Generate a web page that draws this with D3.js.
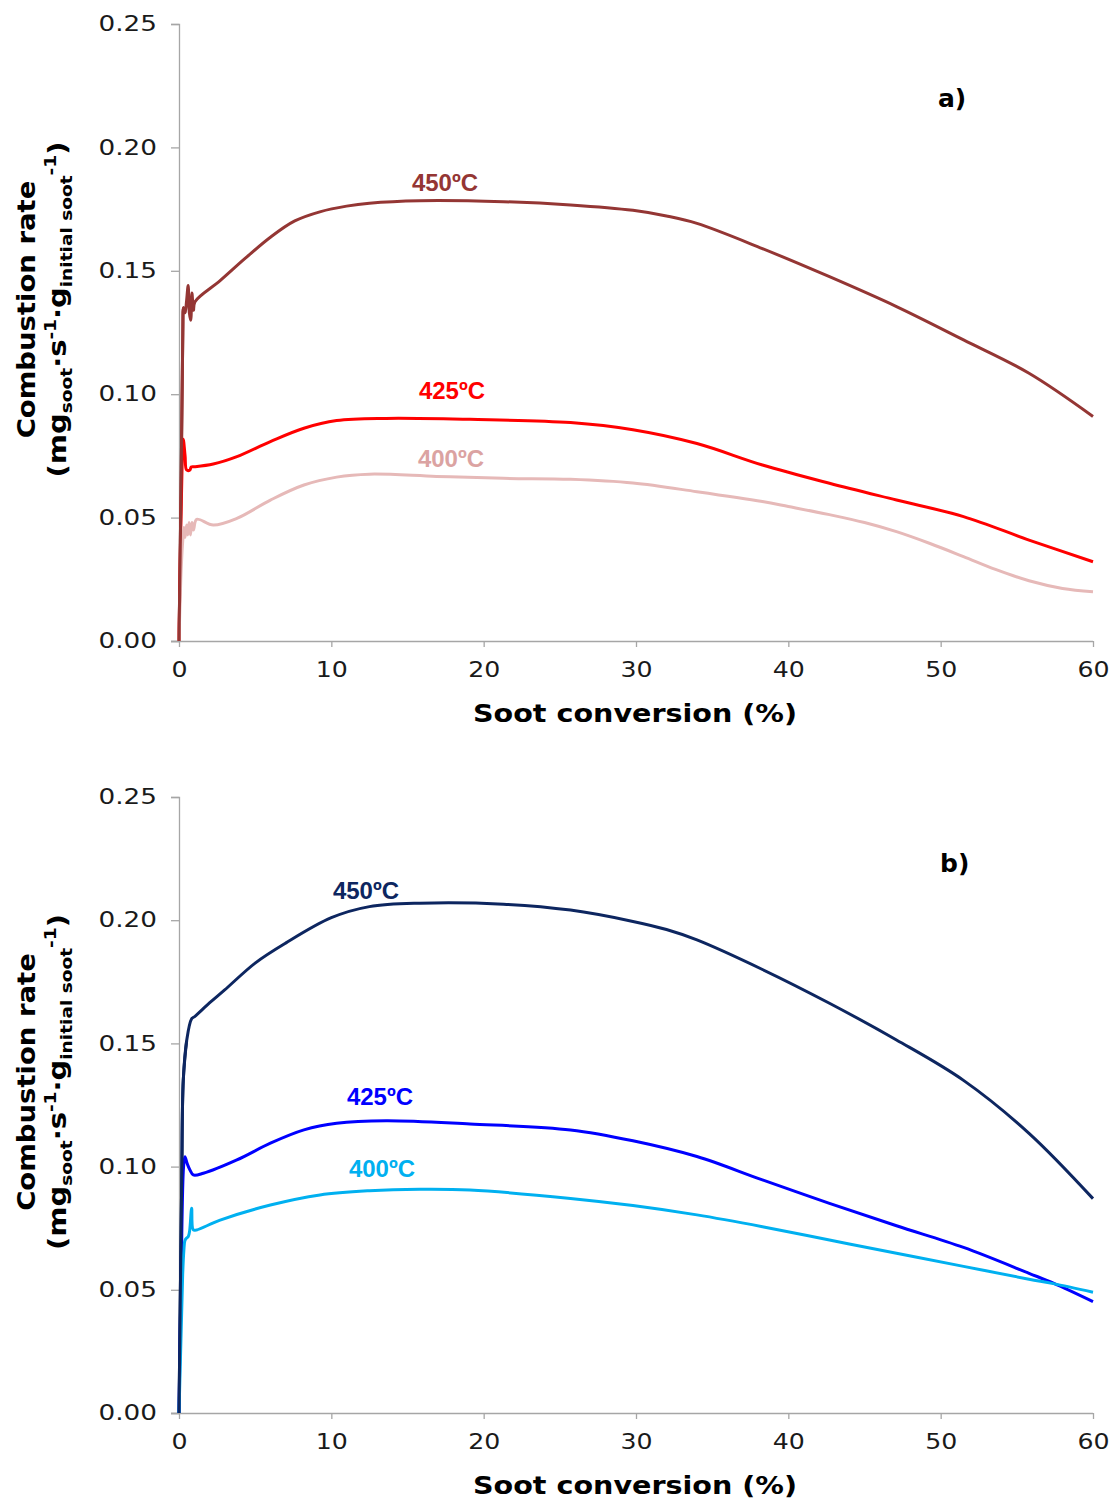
<!DOCTYPE html>
<html><head><meta charset="utf-8">
<script src="https://cdn.jsdelivr.net/npm/d3@7"></script>
<style>body{margin:0;background:#fff}svg{display:block}</style>
</head><body>
<script>
// ---------- DATA ----------
const xTicks = [0, 10, 20, 30, 40, 50, 60];
const yTicks = [0, 0.05, 0.10, 0.15, 0.20, 0.25];
const seriesNames = ["450ºC", "425ºC", "400ºC"];

const a450 = [[0,0],[0.15,0.07],[0.25,0.125],[0.3,0.135],[0.4,0.133],[0.5,0.138],[0.6,0.144],[0.68,0.133],[0.77,0.130],[0.85,0.141],[0.95,0.134],[1.05,0.1375],[2.7,0.146],[4.3,0.1548],[6.0,0.1636],[7.6,0.1702],[9.3,0.1740],[11,0.1762],[12.5,0.1774],[15.8,0.1784],[21.3,0.178],[25.7,0.1767],[29.8,0.1745],[32,0.1722],[34,0.1692],[38.3,0.159],[42.7,0.1476],[47.1,0.1355],[51.5,0.122],[55.8,0.1085],[60,0.091]];
const a425 = [[0,0],[0.1,0.04],[0.2,0.07],[0.28,0.0817],[0.4,0.075],[0.5,0.0693],[0.72,0.0693],[0.8,0.0705],[1.05,0.0706],[2.25,0.0717],[3.8,0.0747],[6,0.0808],[8.2,0.0862],[10.35,0.0893],[13.6,0.0902],[19.1,0.0898],[25.7,0.0885],[29.8,0.0856],[34,0.080],[38.3,0.0713],[42.7,0.0639],[47.1,0.0571],[51.5,0.0504],[55.8,0.0409],[60,0.0321]];
const a400 = [[0,0],[0.15,0.03],[0.25,0.041],[0.33,0.046],[0.4,0.042],[0.5,0.047],[0.58,0.043],[0.66,0.048],[0.75,0.043],[0.85,0.048],[0.95,0.045],[1.16,0.0493],[2.25,0.047],[3.8,0.0497],[6,0.0571],[8.2,0.0632],[10.35,0.0664],[12.5,0.0676],[16.9,0.0667],[21.3,0.0659],[25.7,0.0655],[29.8,0.064],[34,0.0605],[38.3,0.0565],[40,0.0545],[42.7,0.0512],[45,0.0480],[47.1,0.0443],[49.3,0.0395],[51.5,0.0342],[53.6,0.0290],[55.8,0.0244],[58,0.0213],[60,0.020]];

const b450 = [[0,0],[0.07,0.039],[0.18,0.095],[0.28,0.135],[0.5,0.151],[0.83,0.160],[1.05,0.161],[2,0.1664],[3,0.1717],[5,0.1826],[7,0.1907],[10,0.2010],[12.5,0.2055],[15.8,0.2069],[21.3,0.2065],[25.7,0.2041],[29.8,0.1995],[32,0.1962],[34,0.192],[38.3,0.180],[42.7,0.1663],[47.1,0.1514],[51.5,0.135],[55.8,0.1135],[60,0.087]];
const b425 = [[0,0],[0.15,0.06],[0.3,0.1],[0.39,0.104],[0.55,0.101],[0.72,0.0986],[0.94,0.0966],[1.6,0.0973],[3.8,0.1027],[6,0.1095],[8.2,0.1149],[10.35,0.1176],[13.6,0.1186],[19.1,0.1173],[25.7,0.1149],[29.8,0.1105],[34,0.1041],[38.3,0.0946],[42.7,0.0851],[47.1,0.0760],[51.5,0.0672],[55.8,0.0567],[57.4,0.0527],[60,0.0452]];
const b400 = [[0,0],[0.15,0.035],[0.24,0.056],[0.32,0.066],[0.39,0.070],[0.5,0.071],[0.61,0.0716],[0.7,0.074],[0.83,0.0831],[0.94,0.0743],[1.16,0.0743],[2.7,0.0783],[6,0.0844],[9.25,0.0885],[12.5,0.0902],[15.8,0.0908],[19.1,0.0905],[25.7,0.0871],[29.8,0.0842],[34,0.0804],[38.3,0.0756],[42.7,0.0702],[47.1,0.0648],[51.5,0.0595],[55.8,0.0543],[57.4,0.0525],[60,0.0490]];

// ---------- LAYOUT / STYLE ----------
const W = 1113, H = 1502;
const svg = d3.select("body").append("svg").attr("width", W).attr("height", H);

const panels = [
  { tag: "a)", top: 24, bottom: 641, data: [a450, a425, a400],
    colors: ["#943634", "#ff0000", "#e6b9b8"], labelColors: ["#943634", "#ff0000", "#dba3a2"],
    labelPos: [[445, 191], [452, 399], [451, 467]], tagPos: [938, 107] },
  { tag: "b)", top: 797, bottom: 1413, data: [b450, b425, b400],
    colors: ["#0d2660", "#0000ff", "#00b0f0"], labelColors: ["#0d2660", "#0000ff", "#00b0f0"],
    labelPos: [[366, 899], [380, 1105], [382, 1177]], tagPos: [940, 872] }
];

function stretch(sel, factor) {
  sel.each(function () {
    const l = this.getComputedTextLength();
    this.setAttribute("textLength", l * factor);
    this.setAttribute("lengthAdjust", "spacingAndGlyphs");
  });
}

const x = d3.scaleLinear().domain([0, 60]).range([179, 1093]);

panels.forEach(p => {
  const y = d3.scaleLinear().domain([0, 0.25]).range([p.bottom, p.top]);
  const g = svg.append("g");

  // y axis
  const ya = g.append("g").attr("transform", `translate(${x(0)},0)`)
    .call(d3.axisLeft(y).tickValues(yTicks).tickFormat(d3.format(".2f")).tickSize(8).tickPadding(14));
  // x axis
  const xa = g.append("g").attr("transform", `translate(0,${p.bottom})`)
    .call(d3.axisBottom(x).tickValues(xTicks).tickFormat(d3.format("d")).tickSize(6).tickPadding(15));
  [ya, xa].forEach(a => {
    a.select(".domain").attr("stroke", "#a6a6a6").attr("stroke-width", 1.3);
    a.selectAll(".tick line").attr("stroke", "#a6a6a6").attr("stroke-width", 1.3);
    a.selectAll("text").attr("font-family", "DejaVu Sans").attr("font-size", 21).attr("fill", "#1a1a1a");
  });
  xa.select(".domain").attr("d", `M${x(0)-8},0.5H${x(60)}`);
  stretch(ya.selectAll("text"), 1.25);
  stretch(xa.selectAll("text"), 1.2);

  // curves
  const line = d3.line().x(d => x(d[0])).y(d => y(d[1])).curve(d3.curveCatmullRom.alpha(0.5));
  p.data.forEach((s, i) => {
    g.append("path").datum(s).attr("d", line).attr("fill", "none")
      .attr("stroke", p.colors[i]).attr("stroke-width", 3).attr("stroke-linejoin", "round");
  });
  // redraw the 450 curve's initial rise on top (it overlays the others at x≈0)
  g.append("path").datum(p.data[0].slice(0, 5)).attr("d", line).attr("fill", "none")
    .attr("stroke", p.colors[0]).attr("stroke-width", 3);

  // series labels
  seriesNames.forEach((n, i) => {
    g.append("text").attr("x", p.labelPos[i][0]).attr("y", p.labelPos[i][1])
      .attr("text-anchor", "middle").attr("font-family", "Liberation Sans, Arial")
      .attr("font-weight", "bold").attr("font-size", 24).attr("fill", p.labelColors[i]).text(n);
  });

  // panel tag
  g.append("text").attr("x", p.tagPos[0]).attr("y", p.tagPos[1])
    .attr("font-family", "DejaVu Sans").attr("font-weight", "bold").attr("font-size", 25)
    .attr("fill", "#000").text(p.tag);

  // x title
  const xt = g.append("text").attr("x", 635).attr("y", p.bottom + 81).attr("text-anchor", "middle")
    .attr("font-family", "DejaVu Sans").attr("font-weight", "bold").attr("font-size", 24)
    .attr("fill", "#000").text("Soot conversion (%)");
  xt.attr("textLength", 324).attr("lengthAdjust", "spacingAndGlyphs");

  // y title
  const cy = (p.top + p.bottom) / 2 - 23;
  g.append("text").attr("transform", `translate(35,${cy}) rotate(-90) scale(1.1,1)`)
    .attr("text-anchor", "middle").attr("font-family", "DejaVu Sans").attr("font-weight", "bold")
    .attr("font-size", 25).attr("fill", "#000").text("Combustion rate");

  const yt2 = g.append("text").attr("transform", `translate(66,${cy}) rotate(-90) scale(1.16,1)`)
    .attr("text-anchor", "middle").attr("font-family", "DejaVu Sans").attr("font-weight", "bold")
    .attr("font-size", 25).attr("fill", "#000");
  const parts = [
    ["(mg", 0, 25], ["soot", 6, 16], ["·s", -6, 25], ["-1", -10, 16], ["·g", 10, 25],
    ["initial soot", 6, 16], ["-1", -16, 16], [")", 10, 25]
  ];
  parts.forEach(pt => yt2.append("tspan").attr("dy", pt[1]).attr("font-size", pt[2]).text(pt[0]));
});
</script>
</body></html>
